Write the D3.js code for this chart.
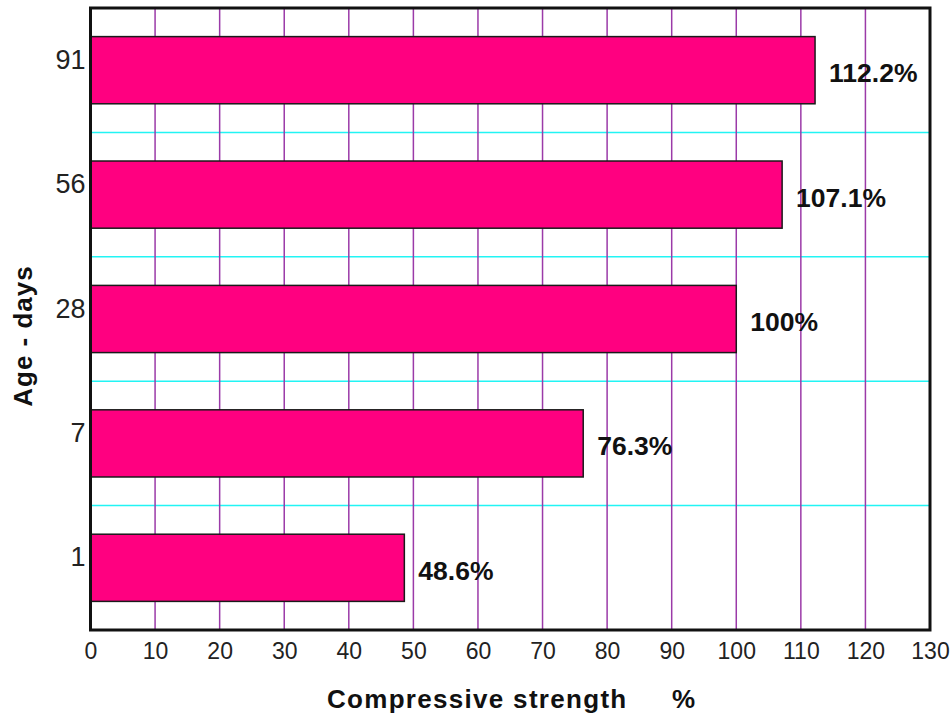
<!DOCTYPE html>
<html><head><meta charset="utf-8">
<script src="https://cdn.jsdelivr.net/npm/d3@7/dist/d3.min.js"></script>
<style>body{margin:0;background:#fff;} text{font-family:"Liberation Sans",Arial,sans-serif;}</style>
</head><body>
<svg id="c" width="950" height="716"></svg>
<script>
const ages = ["91", "56", "28", "7", "1"];
const strength = [112.2, 107.1, 100, 76.3, 48.6];
const valueLabels = ["112.2%", "107.1%", "100%", "76.3%", "48.6%"];
const xTicks = [0,10,20,30,40,50,60,70,80,90,100,110,120,130];

const svg = d3.select("#c");
const L = 90.5, R = 930, T = 8, B = 630;
const x = d3.scaleLinear().domain([0,130]).range([L, R]);
const y = d3.scaleBand().domain(ages).range([T, B]).padding(0);
const barH = y.bandwidth()*0.54;

// horizontal cyan lines at band boundaries
svg.append("g").selectAll("line").data(ages.slice(1)).join("line")
  .attr("x1", L).attr("x2", R)
  .attr("y1", d => y(d)).attr("y2", d => y(d))
  .attr("stroke", "#22f4f4").attr("stroke-width", 1.5);

// vertical purple grid
svg.append("g").selectAll("line").data(xTicks.slice(1, -1)).join("line")
  .attr("x1", d => x(d)).attr("x2", d => x(d))
  .attr("y1", T).attr("y2", B)
  .attr("stroke", "#9b3aa8").attr("stroke-width", 1.5);

// bars
svg.append("g").selectAll("rect").data(ages).join("rect")
  .attr("x", x(0))
  .attr("y", d => y(d) + (y.bandwidth()-barH)/2)
  .attr("width", (d,i) => x(strength[i]) - x(0))
  .attr("height", barH)
  .attr("fill", "#ff0080")
  .attr("stroke", "#1a1a1a").attr("stroke-width", 1.5);

// value labels
svg.append("g").selectAll("text").data(ages).join("text")
  .attr("x", (d,i) => x(strength[i]) + 14)
  .attr("y", d => y(d) + y.bandwidth()/2 + 3)
  .attr("dominant-baseline", "central")
  .attr("font-size", 26.5).attr("font-weight", "bold").attr("fill", "#111")
  .text((d,i) => valueLabels[i]);

// frame
svg.append("rect").attr("x", L).attr("y", T).attr("width", R-L).attr("height", B-T)
  .attr("fill", "none").attr("stroke", "#111").attr("stroke-width", 3);

// x axis
const xAxis = d3.axisBottom(x).tickValues(xTicks).tickSize(0).tickPadding(13);
const gx = svg.append("g").attr("transform", `translate(0,${B})`).call(xAxis);
gx.select(".domain").remove();
gx.selectAll("text").attr("font-size", 23).attr("fill", "#222")
  .style("font-family", '"Liberation Sans",Arial,sans-serif');

// y axis
const yAxis = d3.axisLeft(y).tickSize(0).tickPadding(5);
const gy = svg.append("g").attr("transform", `translate(${L},0)`).call(yAxis);
gy.select(".domain").remove();
gy.selectAll("text").attr("font-size", 27).attr("fill", "#222").attr("dy", "-0.05em")
  .style("font-family", '"Liberation Sans",Arial,sans-serif');

// axis titles
svg.append("text").attr("x", 327).attr("y", 708)
  .attr("font-size", 26).attr("font-weight", "bold").attr("fill", "#111")
  .attr("letter-spacing", 1.3)
  .text("Compressive strength");
svg.append("text").attr("x", 672).attr("y", 708)
  .attr("font-size", 26).attr("font-weight", "bold").attr("fill", "#111")
  .text("%");
svg.append("text").attr("transform", "translate(32,336) rotate(-90)")
  .attr("text-anchor", "middle")
  .attr("font-size", 26).attr("font-weight", "bold").attr("fill", "#111")
  .attr("letter-spacing", 1)
  .text("Age - days");
</script>
</body></html>
